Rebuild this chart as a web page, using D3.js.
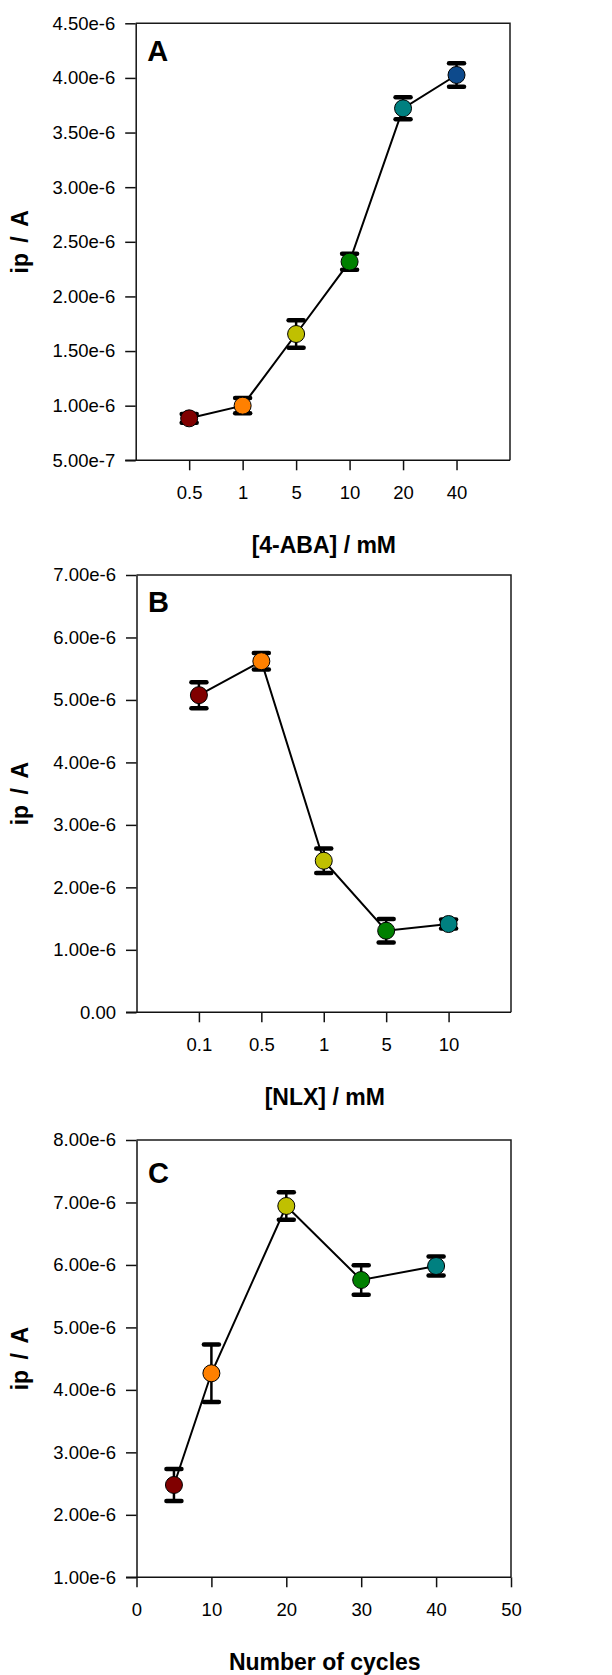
<!DOCTYPE html>
<html>
<head>
<meta charset="utf-8">
<script src="https://cdn.jsdelivr.net/npm/d3@7"></script>
<style>
  html, body { margin: 0; padding: 0; background: #fff; }
  svg { display: block; font-family: "Liberation Sans", Arial, sans-serif; }
</style>
</head>
<body>
<svg id="chart" width="612" height="1675"></svg>
<script>
// ---------- Data ----------
const colors = ["#800000", "#ff8000", "#c0c000", "#008000", "#008080", "#0d4a8c"];

// Panel A
const catsA = ["0.5", "1", "5", "10", "20", "40"];
const valsA = [0.884e-6, 1.000e-6, 1.656e-6, 2.318e-6, 3.722e-6, 4.027e-6];
const errA  = [0.040e-6, 0.070e-6, 0.126e-6, 0.073e-6, 0.100e-6, 0.107e-6];
const yTicksA = [5e-7, 1.0e-6, 1.5e-6, 2.0e-6, 2.5e-6, 3.0e-6, 3.5e-6, 4.0e-6, 4.5e-6];

// Panel B
const catsB = ["0.1", "0.5", "1", "5", "10"];
const valsB = [5.077e-6, 5.620e-6, 2.426e-6, 1.306e-6, 1.413e-6];
const errB  = [0.208e-6, 0.133e-6, 0.195e-6, 0.187e-6, 0.072e-6];
const yTicksB = [0, 1e-6, 2e-6, 3e-6, 4e-6, 5e-6, 6e-6, 7e-6];

// Panel C
const cyclesC = [5, 10, 20, 30, 40];
const valsC = [2.478e-6, 4.266e-6, 6.944e-6, 5.759e-6, 5.983e-6];
const errC  = [0.256e-6, 0.459e-6, 0.220e-6, 0.235e-6, 0.152e-6];
const yTicksC = [1e-6, 2e-6, 3e-6, 4e-6, 5e-6, 6e-6, 7e-6, 8e-6];
const xTicksC = [0, 10, 20, 30, 40, 50];

// ---------- Layout ----------
const panels = [
  { letter: "A", left: 135.7, right: 510, top: 23.3, bottom: 460.3, letterDy: 37.7,
    type: "cat", cats: catsA, vals: valsA, errs: errA, yTicks: yTicksA,
    yDomain: [5e-7, 4.5e-6], title: "[4-ABA] / mM" },
  { letter: "B", left: 136.5, right: 511, top: 575, bottom: 1012.3, letterDy: 36.7,
    type: "cat", cats: catsB, vals: valsB, errs: errB, yTicks: yTicksB,
    yDomain: [0, 7e-6], title: "[NLX] / mM" },
  { letter: "C", left: 136.5, right: 511, top: 1140, bottom: 1577.3, letterDy: 43,
    type: "lin", xs: cyclesC, vals: valsC, errs: errC, yTicks: yTicksC, xTicks: xTicksC,
    yDomain: [1e-6, 8e-6], xDomain: [0, 50], title: "Number of cycles" }
];

const svg = d3.select("#chart");
const fmtY = v => v === 0 ? "0.00" : d3.format(".2e")(v);

panels.forEach(p => {
  const g = svg.append("g");
  const y = d3.scaleLinear().domain(p.yDomain).range([p.bottom, p.top]);
  let x, pts, xAxis;
  if (p.type === "cat") {
    x = d3.scaleLinear().domain([0, p.cats.length + 1]).range([p.left, p.right]);
    pts = p.cats.map((c, i) => ({ x: i + 1, v: p.vals[i], e: p.errs[i], c: colors[i] }));
    xAxis = d3.axisBottom(x).tickValues(p.cats.map((c, i) => i + 1))
      .tickFormat((d) => p.cats[d - 1]);
  } else {
    x = d3.scaleLinear().domain(p.xDomain).range([p.left, p.right]);
    pts = p.xs.map((xv, i) => ({ x: xv, v: p.vals[i], e: p.errs[i], c: colors[i] }));
    xAxis = d3.axisBottom(x).tickValues(p.xTicks).tickFormat(d3.format("d"));
  }

  // Frame (top + right)
  g.append("path")
    .attr("d", `M${p.left},${p.top}H${p.right}V${p.bottom}`)
    .attr("fill", "none").attr("stroke", "#1a1a1a").attr("stroke-width", 1.5);

  // Y axis
  const ya = g.append("g").attr("transform", `translate(${p.left},0)`)
    .call(d3.axisLeft(y).tickValues(p.yTicks).tickFormat(fmtY).tickSize(10.5).tickSizeOuter(0).tickPadding(10));
  ya.select(".domain").attr("stroke-width", 1.5).attr("stroke", "#111");
  ya.selectAll(".tick line").attr("stroke-width", 1.5).attr("stroke", "#111");
  ya.selectAll(".tick text").attr("font-size", "18.5px").attr("fill", "#000")
    .attr("font-family", "'Liberation Sans', Arial, sans-serif");

  // X axis
  const xa = g.append("g").attr("transform", `translate(0,${p.bottom})`)
    .call(xAxis.tickSize(10).tickSizeOuter(0).tickPadding(16));
  xa.select(".domain").attr("stroke-width", 1.5).attr("stroke", "#111")
    .attr("d", `M${p.left - 10.5},0H${p.right}`);
  xa.selectAll(".tick line").attr("stroke-width", 1.5).attr("stroke", "#111");
  xa.selectAll(".tick text").attr("font-size", "18.5px").attr("fill", "#000")
    .attr("font-family", "'Liberation Sans', Arial, sans-serif");

  // Connecting line
  g.append("path").datum(pts)
    .attr("d", d3.line().x(d => x(d.x)).y(d => y(d.v)))
    .attr("fill", "none").attr("stroke", "#000").attr("stroke-width", 2);

  // Error bars
  const eb = g.append("g").selectAll("g").data(pts).join("g");
  eb.append("line")
    .attr("x1", d => x(d.x)).attr("x2", d => x(d.x))
    .attr("y1", d => y(d.v + d.e)).attr("y2", d => y(d.v - d.e))
    .attr("stroke", "#000").attr("stroke-width", 2.5);
  [1, -1].forEach(s => {
    eb.append("line")
      .attr("x1", d => x(d.x) - 7.5).attr("x2", d => x(d.x) + 7.5)
      .attr("y1", d => y(d.v + s * d.e)).attr("y2", d => y(d.v + s * d.e))
      .attr("stroke", "#000").attr("stroke-width", 4.5).attr("stroke-linecap", "round");
  });

  // Markers
  g.append("g").selectAll("circle").data(pts).join("circle")
    .attr("cx", d => x(d.x)).attr("cy", d => y(d.v)).attr("r", 8.5)
    .attr("fill", d => d.c).attr("stroke", "#000").attr("stroke-width", 1);

  // Panel letter
  g.append("text").attr("x", p.left + 11.5).attr("y", p.top + p.letterDy)
    .attr("font-size", "29px").attr("font-weight", "bold").text(p.letter);

  // Axis titles
  g.append("text").attr("x", (p.left + p.right) / 2 + 1).attr("y", p.bottom + 92.5)
    .attr("text-anchor", "middle").attr("font-size", "23px").attr("font-weight", "bold")
    .text(p.title);
  g.append("text")
    .attr("transform", `translate(27.5,${(p.top + p.bottom) / 2}) rotate(-90)`)
    .attr("text-anchor", "middle").attr("font-size", "23px").attr("font-weight", "bold")
    .attr("word-spacing", "4px")
    .text("ip / A");
});
</script>
</body>
</html>
